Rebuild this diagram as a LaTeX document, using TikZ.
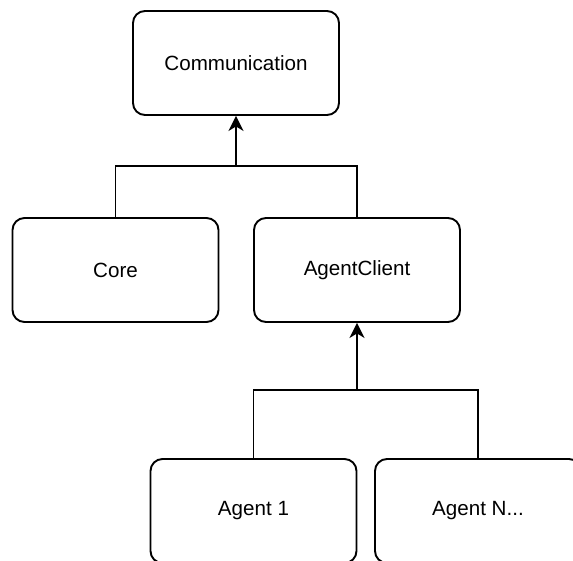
\documentclass[tikz,border=0pt]{standalone}
\usepackage{fontspec}
\setmainfont{Liberation Sans}
\usetikzlibrary{arrows.meta}
\begin{document}
\begin{tikzpicture}[x=1pt,y=-1pt,
  box/.style={draw=black,line width=1.9pt,rounded corners=12pt,fill=white,
    minimum width=206pt,minimum height=104pt,inner sep=0pt,
    font=\fontsize{20.6pt}{24pt}\selectfont},
  conn/.style={draw=black,line width=1.9pt},
  arr/.style={conn,-{Stealth[length=15pt,width=15pt,inset=4.5pt]}}]
\useasboundingbox (0,0) rectangle (573,560);
\clip (0,0) rectangle (573,560);
\node[box] (comm) at (236,63) {Communication};
\node[box] (core) at (115.5,270) {Core};
\node[box] (ac) at (357,270) {AgentClient};
\node[box] (a1) at (253.5,511) {Agent 1};
\node[box] (an) at (478,511) {Agent N...};
\coordinate (j1) at (236,166);
\coordinate (j2) at (357,390);
\draw[conn] (core.north) |- (j1) -| (ac.north);
\draw[arr] (j1) -- (comm.south);
\draw[conn] (a1.north) |- (j2) -| (an.north);
\draw[arr] (j2) -- (ac.south);
\end{tikzpicture}
\end{document}
